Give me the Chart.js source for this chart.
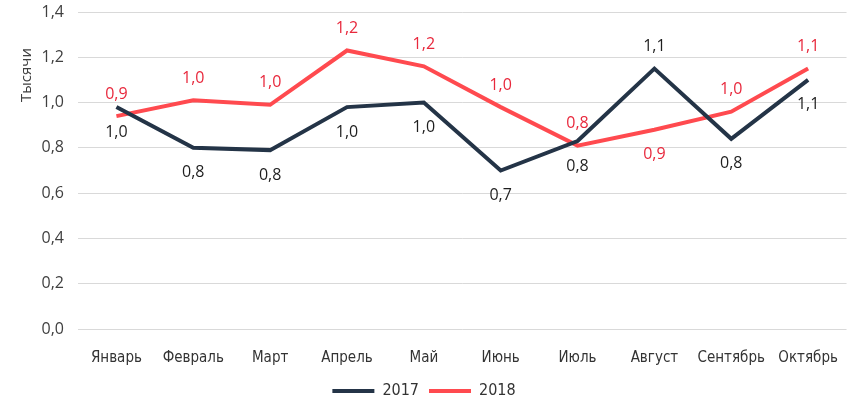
<!DOCTYPE html>
<html>
<head>
<meta charset="utf-8">
<script src="https://cdn.jsdelivr.net/npm/chart.js@4"></script>
<style>
  html, body { margin: 0; padding: 0; background: #fff; }
  #wrap { width: 850px; height: 413px; }
</style>
</head>
<body>
<div id="wrap"><canvas id="lineChart"></canvas></div>
<script>
    const months = ['Январь', 'Февраль', 'Март', 'Апрель', 'Май', 'Июнь', 'Июль', 'Август', 'Сентябрь', 'Октябрь'];
    const values2017 = [0.98, 0.80, 0.79, 0.98, 1.00, 0.70, 0.83, 1.15, 0.84, 1.10];
    const values2018 = [0.94, 1.01, 0.99, 1.23, 1.16, 0.98, 0.81, 0.88, 0.96, 1.15];
    const yTicks = [0, 0.2, 0.4, 0.6, 0.8, 1.0, 1.2, 1.4];

    // where each value label sits relative to its point
    const labelSide2017 = ['below', 'below', 'below', 'below', 'below', 'below', 'below', 'above', 'below', 'below'];
    const labelSide2018 = ['above', 'above', 'above', 'above', 'above', 'above', 'above', 'below', 'above', 'above'];

    const numFont = '"Open Sans", "Noto Sans", sans-serif';
    const narrowFont = '"Liberation Sans Narrow", "DejaVu Sans Condensed", "Open Sans", sans-serif';

    const fmt = v => v.toFixed(1).replace('.', ',');

    // value labels drawn next to each point
    const valueLabels = {
        id: 'valueLabels',
        afterDatasetsDraw(chart) {
            const ctx = chart.ctx;
            ctx.save();
            ctx.font = '16px ' + numFont;
            ctx.textAlign = 'center';
            ctx.textBaseline = 'middle';
            chart.data.datasets.forEach((ds, di) => {
                const meta = chart.getDatasetMeta(di);
                meta.data.forEach((pt, i) => {
                    const side = ds.labelSides[i];
                    const dy = side === 'above' ? -22 : 25;
                    ctx.fillStyle = ds.labelColor;
                    ctx.fillText(fmt(ds.data[i]), pt.x, pt.y + dy);
                });
            });
            ctx.restore();
        }
    };

    // rotated axis caption near the top of the value axis
    const axisCaption = {
        id: 'axisCaption',
        afterDraw(chart) {
            const ctx = chart.ctx;
            ctx.save();
            ctx.translate(27, chart.chartArea.top + 63);
            ctx.rotate(-Math.PI / 2);
            ctx.font = '15px ' + numFont;
            ctx.fillStyle = '#404040';
            ctx.textAlign = 'center';
            ctx.textBaseline = 'middle';
            ctx.fillText('Тысячи', 0, 0);
            ctx.restore();
        }
    };

    const ctx = document.getElementById('lineChart').getContext('2d');

    const myChart = new Chart(ctx, {
        type: 'line',
        data: {
            labels: months,
            datasets: [{
                label: '2017',
                data: values2017,
                borderColor: '#243447',
                backgroundColor: '#243447',
                borderWidth: 4,
                pointRadius: 0,
                tension: 0,
                labelColor: '#1e1e1e',
                labelSides: labelSide2017
            }, {
                label: '2018',
                data: values2018,
                borderColor: '#ff4a4f',
                backgroundColor: '#ff4a4f',
                borderWidth: 4,
                pointRadius: 0,
                tension: 0,
                labelColor: '#e8283c',
                labelSides: labelSide2018
            }]
        },
        options: {
            responsive: true,
            maintainAspectRatio: false,
            animation: false,
            layout: {
                padding: { top: 0, right: 2, bottom: 4, left: 0 }
            },
            plugins: {
                legend: {
                    position: 'bottom',
                    labels: {
                        usePointStyle: true,
                        pointStyle: 'line',
                        pointStyleWidth: 42,
                        boxHeight: 4,
                        padding: 10,
                        color: '#333333',
                        font: { family: narrowFont, size: 16 }
                    }
                },
                tooltip: { enabled: false }
            },
            scales: {
                x: {
                    offset: true,
                    afterFit: s => { s.height = 44; },
                    grid: { display: false },
                    border: { display: false },
                    ticks: {
                        color: '#333333',
                        padding: 12,
                        maxRotation: 0,
                        autoSkip: false,
                        font: { family: narrowFont, size: 15 }
                    }
                },
                y: {
                    min: 0,
                    max: 1.4,
                    afterFit: s => {
                        s.width = 78;
                        s.paddingTop = 12;
                        s.paddingBottom = 10;
                    },
                    afterBuildTicks: s => { s.ticks = yTicks.map(v => ({ value: v })); },
                    grid: { color: '#d9d9d9', lineWidth: 1, drawTicks: false },
                    border: { display: false },
                    ticks: {
                        color: '#404040',
                        padding: 14,
                        font: { family: numFont, size: 16 },
                        callback: v => fmt(v)
                    }
                }
            }
        },
        plugins: [valueLabels, axisCaption]
    });
</script>
</body>
</html>
